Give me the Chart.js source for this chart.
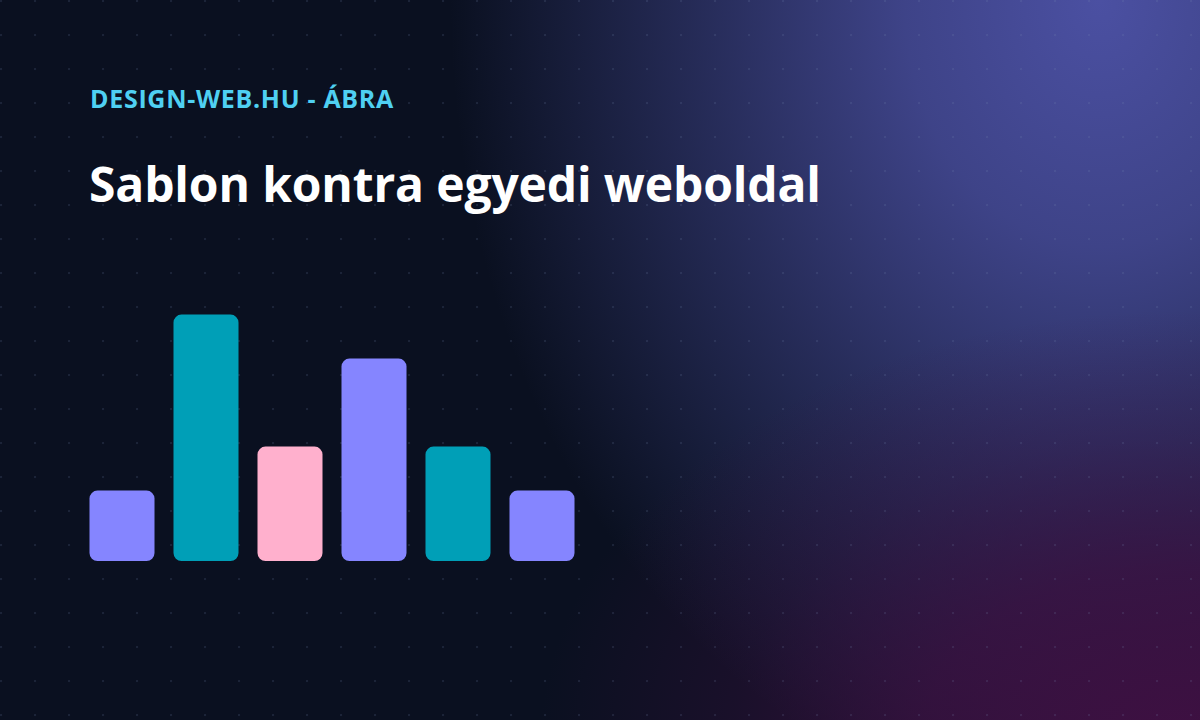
<!DOCTYPE html>
<html>
<head>
<meta charset="utf-8">
<script src="https://cdn.jsdelivr.net/npm/chart.js@4"></script>
<style>
  html,body{margin:0;padding:0;}
  body{
    width:1200px;height:720px;overflow:hidden;position:relative;
    background-color:#0a1020;
    background-image:
      radial-gradient(circle at 1px 1px, rgba(120,140,180,0.16) 1px, transparent 1.6px),
      radial-gradient(ellipse 640px 430px at 1180px 740px, rgba(62,16,66,1) 0%, rgba(62,16,66,0.75) 40%, rgba(62,16,66,0.3) 70%, rgba(62,16,66,0) 100%),
      radial-gradient(ellipse 650px 820px at 1100px 0px, rgba(75,80,162,1) 0%, rgba(75,80,162,0.8) 30%, rgba(75,80,162,0.45) 60%, rgba(75,80,162,0) 100%);
    background-size:34px 34px,100% 100%,100% 100%;
    font-family:"Open Sans","Noto Sans",sans-serif;
  }
  #kicker{position:absolute;left:90px;top:86px;line-height:25px;color:#4fd0f2;font-weight:700;font-size:25px;letter-spacing:0.7px;white-space:nowrap;}
  #title{position:absolute;left:89px;top:160px;line-height:48px;color:#ffffff;font-weight:700;font-size:48px;letter-spacing:-0.15px;white-space:nowrap;}
  #wrap{position:absolute;left:80px;top:297px;width:504px;height:264px;}
</style>
</head>
<body>
<div id="kicker">DESIGN-WEB.HU - ÁBRA</div>
<div id="title">Sablon kontra egyedi weboldal</div>
<div id="wrap"><canvas id="chartCanvas"></canvas></div>
<script>
//data
const labels=['1','2','3','4','5','6'];
const values=[32,112,52,92,52,32];
const barColors=['#8585ff','#009fb7','#ffb0cd','#8585ff','#009fb7','#8585ff'];

const config={
    type:'bar',
    data:{
        labels:labels,
        datasets:[{
            data:values,
            backgroundColor:barColors,
            borderRadius:8,
            borderSkipped:false,
            barPercentage:65/84,
            categoryPercentage:1
        }]
    },
    options:{
        responsive:true,
        maintainAspectRatio:false,
        animation:false,
        layout:{padding:0},
        plugins:{legend:{display:false},tooltip:{enabled:false}},
        scales:{
            x:{display:false},
            y:{display:false,min:0,max:120}
        }
    }
};

new Chart(document.getElementById('chartCanvas'),config);
</script>
</body>
</html>
